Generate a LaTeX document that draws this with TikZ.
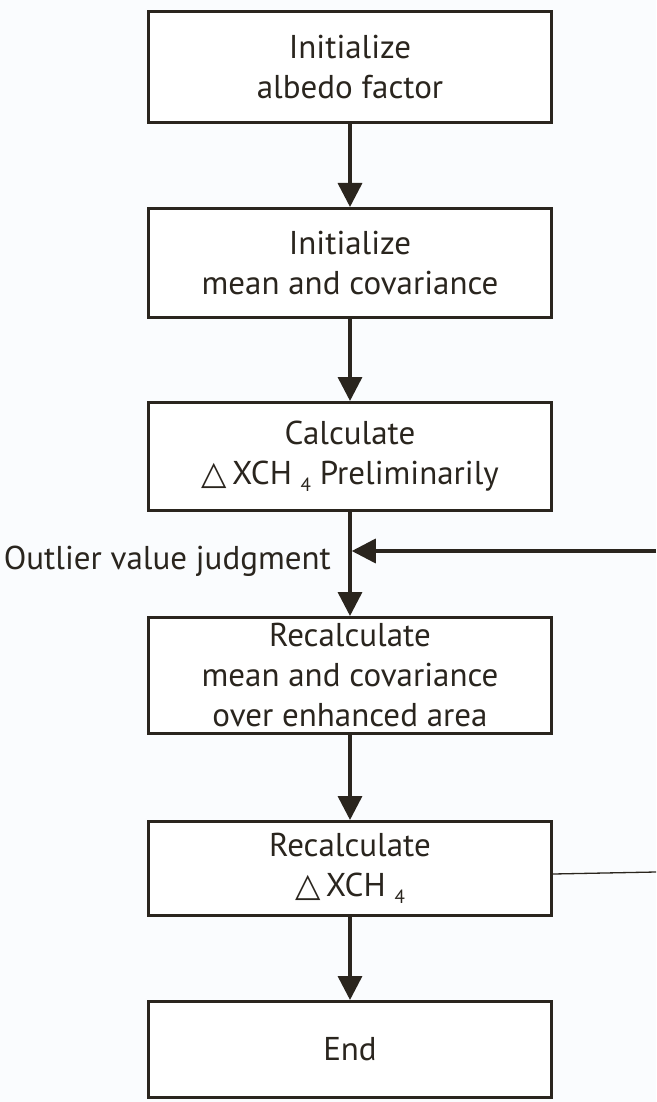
\documentclass[tikz,border=0pt]{standalone}
\usepackage{fontspec}
\setmainfont{PT Sans}
\newfontfamily\symfont{DejaVu Sans}
\usetikzlibrary{positioning,arrows.meta}
\definecolor{ink}{HTML}{2A251E}
\definecolor{paper}{HTML}{FAFCFE}
\newcommand{\subfour}{\raisebox{-7pt}{\fontsize{19}{19}\selectfont 4}}

\begin{document}
\begin{tikzpicture}[x=1pt, y=-1pt,
    stepbox/.style={draw=ink, fill=white, line width=3pt, minimum width=403pt,
      align=center, text=ink, inner sep=0pt, font=\fontsize{33}{40}\selectfont},
    flow/.style={draw=ink, line width=3.5pt, -{Triangle[length=24pt,width=24pt]}},
    back/.style={draw=ink, line width=1.3pt},
    lbl/.style={text=ink, inner sep=0pt, font=\fontsize{33}{40}\selectfont}]
  \fill[paper] (0,0) rectangle (656,1102);
  \useasboundingbox (0,0) rectangle (656,1102);
  % steps
  \node[stepbox, minimum height=111pt] (albedo) at (350,67) {Initialize\\ albedo factor};
  \node[stepbox, minimum height=109pt] (initmc) at (350,263) {Initialize\\ mean and covariance};
  \node[stepbox, minimum height=108pt] (calc) at (350,456.5) {Calculate\\ {\symfont △}\,XCH \subfour\ Preliminarily};
  \node[stepbox, minimum height=116pt] (recalcmc) at (350,675.5) {Recalculate\\ mean and covariance\\ over enhanced area};
  \node[stepbox, minimum height=94pt] (recalc) at (350,868.5) {Recalculate\\ {\symfont △}\,XCH \subfour};
  \node[stepbox, minimum height=96pt] (fin) at (350,1049.5) {End};
  % main flow
  \draw[flow] (albedo) -- (initmc);
  \draw[flow] (initmc) -- (calc);
  \draw[flow] (calc) -- (recalcmc);
  \draw[flow] (recalcmc) -- (recalc);
  \draw[flow] (recalc) -- (fin);
  % feedback loop (runs off the right edge)
  \coordinate (fbout) at (656,872);
  \coordinate (fbin) at (656,551);
  \draw[back] ([yshift=-5.5pt]recalc.east) -- (fbout);
  \draw[flow] (fbin) -- ([xshift=1.75pt]calc.south |- fbin);
  \node[lbl, anchor=base east] (judge) at (331,569) {Outlier value judgment};
\end{tikzpicture}
\end{document}
